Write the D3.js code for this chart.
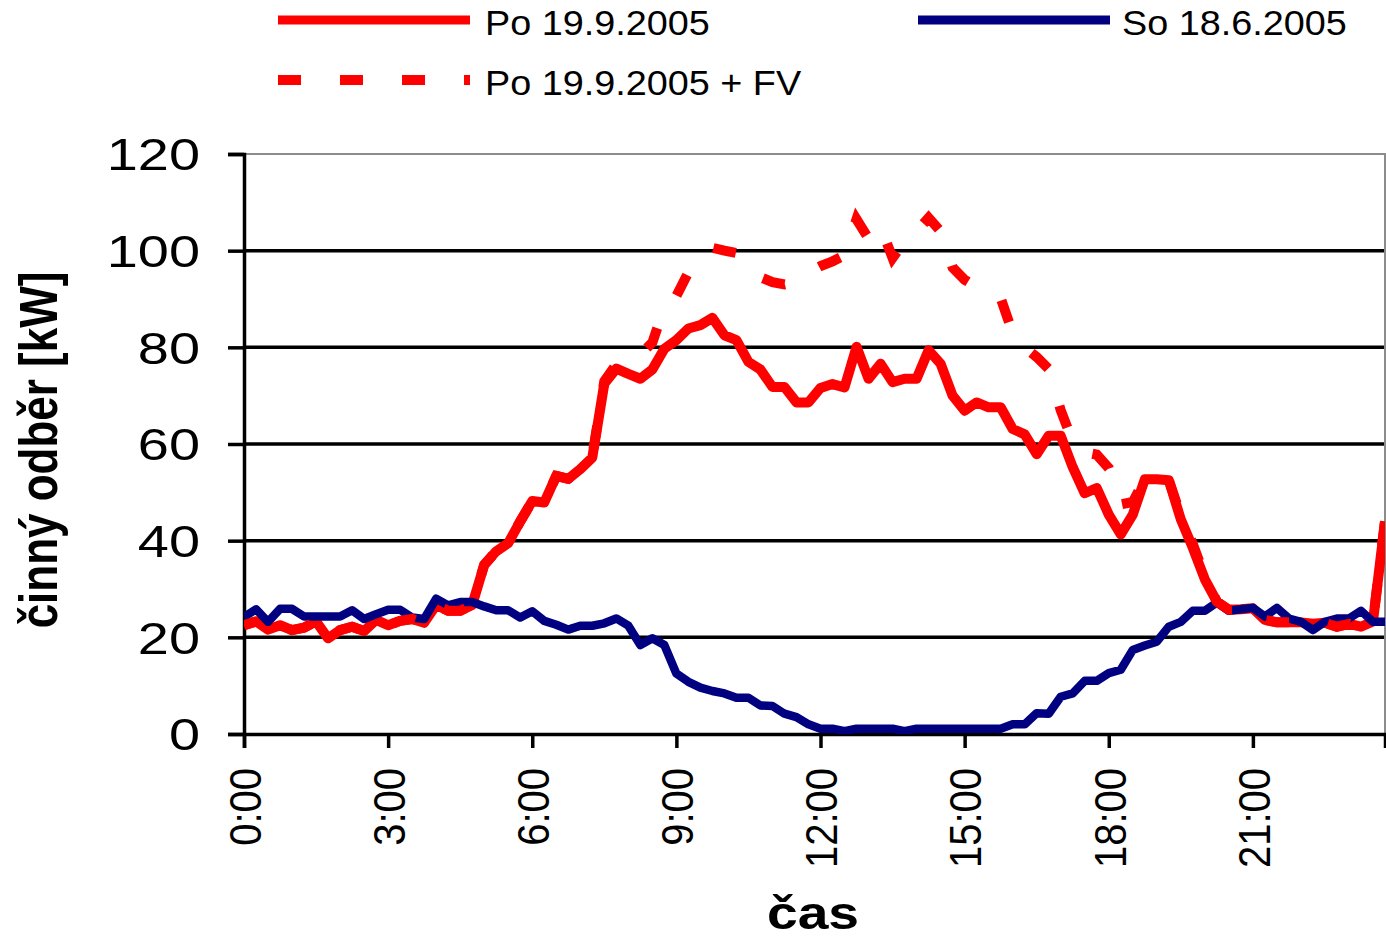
<!DOCTYPE html>
<html>
<head>
<meta charset="utf-8">
<script src="https://cdn.jsdelivr.net/npm/d3@7"></script>
<style>
  html, body { margin: 0; padding: 0; background: #fff; }
  svg { display: block; font-family: "Liberation Sans", Arial, sans-serif; }
</style>
</head>
<body>
<svg id="chart" width="1386" height="940"></svg>
<script>
// 15-minute intervals over one day
const categories = d3.range(96).map(i => `${Math.floor(i / 4)}:${String((i % 4) * 15).padStart(2, "0")}`);
const xTickLabels = ["0:00", "3:00", "6:00", "9:00", "12:00", "15:00", "18:00", "21:00"];
const yTicks = [0, 20, 40, 60, 80, 100, 120];

// Po 19.9.2005 – consumption [kW]
const poValues = [
  22.5, 23.3, 21.6, 22.5, 21.5, 22.0, 23.3, 19.8, 21.5, 22.2, 21.3, 23.6,
  22.5, 23.4, 23.8, 23.0, 26.7, 25.5, 25.5, 26.7, 35.0, 37.8, 39.5, 44.0,
  48.2, 47.9, 53.4, 52.8, 54.8, 57.2, 72.5, 75.6, 74.5, 73.5, 75.4, 79.7,
  81.5, 83.9, 84.6, 86.1, 82.5, 81.5, 77.0, 75.4, 71.8, 71.8, 68.6, 68.6,
  71.6, 72.4, 71.7, 80.1, 73.5, 76.6, 72.8, 73.5, 73.5, 79.4, 76.6, 70.0,
  66.9, 68.6, 67.6, 67.6, 63.1, 62.0, 57.9, 61.7, 61.7, 55.2, 49.8, 50.9,
  45.4, 41.3, 45.4, 52.7, 52.7, 52.5, 44.4, 38.5, 32.0, 27.4, 25.7, 25.8,
  26.0, 23.6, 23.1, 23.1, 23.1, 22.8, 23.0, 22.2, 22.8, 22.2, 23.3, 44.0
];

// So 18.6.2005 – consumption [kW]
const soValues = [
  24.2, 25.8, 23.2, 25.9, 25.9, 24.3, 24.3, 24.3, 24.3, 25.6, 23.8, 24.8,
  25.7, 25.7, 24.1, 23.8, 28.0, 26.6, 27.3, 27.3, 26.4, 25.6, 25.6, 24.1,
  25.4, 23.4, 22.6, 21.6, 22.4, 22.4, 22.9, 23.9, 22.4, 18.4, 19.8, 18.4,
  12.5, 10.8, 9.6, 8.9, 8.4, 7.5, 7.5, 5.9, 5.8, 4.2, 3.5, 2.0,
  1.1, 1.1, 0.6, 1.1, 1.1, 1.1, 1.1, 0.6, 1.1, 1.1, 1.1, 1.1,
  1.1, 1.1, 1.1, 1.1, 2.0, 2.0, 4.3, 4.2, 7.7, 8.4, 11.0, 11.0,
  12.6, 13.3, 17.4, 18.3, 19.1, 22.2, 23.2, 25.5, 25.5, 27.2, 25.5, 25.8,
  26.1, 24.3, 26.1, 23.9, 23.2, 21.5, 23.2, 23.9, 23.9, 25.5, 23.2, 23.2
];

// Po 19.9.2005 + FV – consumption together with photovoltaic output [kW]
const poFvValues = [
  22.5, 23.3, 21.6, 22.5, 21.5, 22.0, 23.3, 19.8, 21.5, 22.2, 21.3, 23.6,
  22.5, 23.4, 23.8, 23.0, 26.7, 25.5, 25.5, 26.7, 35.0, 37.8, 39.5, 44.0,
  48.2, 47.9, 53.4, 52.8, 54.8, 57.5, 73.0, 76.5, 77.5, 78.5, 81.0, 88.3,
  90.6, 95.5, 99.0, 100.6, 100.0, 99.5, 95.5, 94.5, 93.5, 93.0, 93.6, 95.5,
  96.8, 97.8, 99.0, 106.5, 102.5, 105.0, 98.5, 102.0, 104.0, 106.8, 104.0, 96.5,
  94.0, 92.5, 91.5, 90.2, 83.0, 80.0, 78.0, 75.5, 67.0, 60.5, 58.3, 57.8,
  55.0, 47.5, 48.0, 52.7, 52.7, 52.5, 45.2, 39.3, 32.6, 27.4, 25.7, 25.8,
  26.0, 23.6, 23.1, 23.1, 23.1, 22.8, 23.0, 22.2, 22.8, 22.2, 23.3, 44.0
];

const seriesNames = ["Po 19.9.2005", "So 18.6.2005", "Po 19.9.2005 + FV"];
const axisTitleX = "čas";
const axisTitleY = "činný odběr [kW]";

const svg = d3.select("#chart");
const plot = { left: 244, right: 1385, top: 154, bottom: 734 };
const wide = 1.2; // horizontal widening of the lettering

const x = d3.scalePoint().domain(categories).range([plot.left, plot.right]);
const y = d3.scaleLinear().domain([0, 120]).range([plot.bottom, plot.top]);

svg.append("defs").append("clipPath").attr("id", "plotClip")
  .append("rect")
  .attr("x", plot.left).attr("y", plot.top - 10)
  .attr("width", plot.right - plot.left).attr("height", plot.bottom - plot.top + 10);

// horizontal gridlines
svg.append("g")
  .selectAll("line")
  .data(yTicks.filter(v => v > 0 && v < 120))
  .join("line")
  .attr("x1", plot.left).attr("x2", plot.right)
  .attr("y1", d => y(d)).attr("y2", d => y(d))
  .attr("stroke", "#000").attr("stroke-width", 3.5);

// plot frame (top and right edges)
svg.append("path")
  .attr("d", `M${plot.left},${y(120)}H${plot.right}V${plot.bottom}`)
  .attr("fill", "none").attr("stroke", "#8c8c8c").attr("stroke-width", 2);

// y axis
const yAxis = svg.append("g")
  .attr("transform", `translate(${plot.left},0)`)
  .call(d3.axisLeft(y).tickValues(yTicks).tickSize(16).tickPadding(28));
yAxis.select(".domain").attr("stroke", "#000").attr("stroke-width", 3.5);
yAxis.selectAll(".tick line").attr("stroke", "#000").attr("stroke-width", 3.5);
yAxis.selectAll(".tick text")
  .attr("fill", "#000")
  .style("font-size", "44px")
  .attr("x", -44 / 1.27)
  .attr("transform", "scale(1.27,1)")
  .attr("dy", "0.36em");

// x axis
const xAxis = svg.append("g")
  .attr("transform", `translate(0,${plot.bottom})`)
  .call(d3.axisBottom(x)
    .tickValues(categories.filter(c => xTickLabels.includes(c)))
    .tickSize(14));
xAxis.select(".domain").attr("stroke", "#000").attr("stroke-width", 3.5);
xAxis.selectAll(".tick line").attr("stroke", "#000").attr("stroke-width", 3.5);
xAxis.selectAll(".tick text")
  .attr("fill", "#000")
  .style("font-size", "40px")
  .attr("text-anchor", "end")
  .attr("transform", "scale(1.13,1) rotate(-90)")
  .attr("x", -34)
  .attr("y", 0)
  .attr("dy", "0.36em");

// series lines
const line = d3.line().x((d, i) => x(categories[i])).y(d => y(d));
const lines = svg.append("g").attr("clip-path", "url(#plotClip)");

lines.append("path").datum(poValues)
  .attr("d", line).attr("fill", "none")
  .attr("stroke", "#ff0000").attr("stroke-width", 10)
  .attr("stroke-linejoin", "round");

lines.append("path").datum(soValues)
  .attr("d", line).attr("fill", "none")
  .attr("stroke", "#000080").attr("stroke-width", 8.5)
  .attr("stroke-linejoin", "round");

lines.append("path").datum(poFvValues)
  .attr("d", line).attr("fill", "none")
  .attr("stroke", "#ff0000").attr("stroke-width", 10)
  .attr("stroke-dasharray", "23,39")
  .attr("stroke-dashoffset", 12);

// axis titles
svg.append("text")
  .attr("transform", `translate(813,929) scale(${wide},1)`)
  .attr("text-anchor", "middle")
  .style("font-size", "46px").style("font-weight", "bold")
  .text(axisTitleX);

svg.append("text")
  .attr("transform", `translate(57,450) scale(${wide},1) rotate(-90)`)
  .attr("text-anchor", "middle")
  .style("font-size", "44px").style("font-weight", "bold")
  .text(axisTitleY);

// legend
const legendItems = [
  { name: seriesNames[0], color: "#ff0000", width: 9, dash: null, lx: 278, tx: 485, ly: 20 },
  { name: seriesNames[1], color: "#000080", width: 9, dash: null, lx: 918, tx: 1122, ly: 20 },
  { name: seriesNames[2], color: "#ff0000", width: 10, dash: "23,39", lx: 278, tx: 485, ly: 80 }
];
const legend = svg.append("g");
legendItems.forEach(it => {
  legend.append("line")
    .attr("x1", it.lx).attr("x2", it.lx + 192)
    .attr("y1", it.ly).attr("y2", it.ly)
    .attr("stroke", it.color).attr("stroke-width", it.width)
    .attr("stroke-dasharray", it.dash);
  legend.append("text")
    .attr("transform", `translate(${it.tx},${it.ly + 2}) scale(1.08,1)`)
    .attr("dy", "0.36em")
    .style("font-size", "35px")
    .text(it.name);
});
</script>
</body>
</html>
